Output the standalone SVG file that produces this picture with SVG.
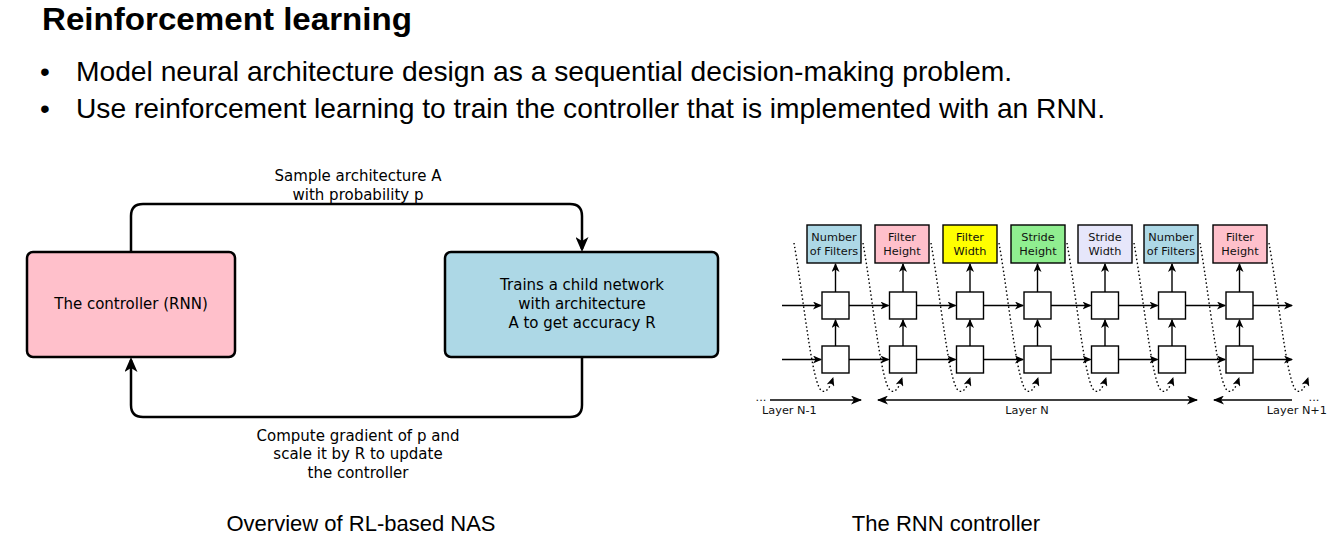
<svg xmlns="http://www.w3.org/2000/svg" width="1333" height="542" viewBox="0 0 1333 542">
<style>
.title{font-family:"Liberation Sans",Arial,sans-serif;font-weight:bold;font-size:32px;fill:#000}
.bul{font-family:"Liberation Sans",Arial,sans-serif;font-size:28px;fill:#000}
.cap{font-family:"Liberation Sans",Arial,sans-serif;font-size:22px;fill:#000;text-anchor:middle}
.lt{font-family:"DejaVu Sans",sans-serif;font-size:15px;fill:#000;text-anchor:middle}
.st{font-family:"DejaVu Sans",sans-serif;font-size:11.3px;fill:#111;text-anchor:middle}
.big{fill:none;stroke:#000;stroke-width:2.5}
.bigbox{stroke:#000;stroke-width:2.5}
.ln{fill:none;stroke:#000;stroke-width:1.4}
.dot{fill:none;stroke:#000;stroke-width:1.4;stroke-dasharray:1.5 2.5}
.sq{fill:#fff;stroke:#000;stroke-width:1.4}
.bx{stroke:#000;stroke-width:1.4}
</style>
<defs>
<marker id="ah" viewBox="0 0 15 13" refX="12" refY="6.5" markerWidth="15" markerHeight="13" markerUnits="userSpaceOnUse" orient="auto">
<path d="M0,0 L15,6.5 L0,13 L4,6.5 z" fill="#000"/>
</marker>
<marker id="sa" viewBox="0 0 9 8" refX="8" refY="4" markerWidth="9" markerHeight="8" markerUnits="userSpaceOnUse" orient="auto-start-reverse">
<path d="M0,0 L9,4 L0,8 L2.5,4 z" fill="#000"/>
</marker>
<marker id="la" viewBox="0 0 11 9" refX="10" refY="4.5" markerWidth="11" markerHeight="9" markerUnits="userSpaceOnUse" orient="auto-start-reverse">
<path d="M0,0 L11,4.5 L0,9 L3,4.5 z" fill="#000"/>
</marker>
</defs>
<rect width="1333" height="542" fill="#fff"/>

<g id="header">
<text class="title" x="42" y="30" textLength="370" lengthAdjust="spacingAndGlyphs">Reinforcement learning</text>
<text class="bul" x="40" y="81">•</text>
<text class="bul" x="76" y="81" textLength="936" lengthAdjust="spacingAndGlyphs">Model neural architecture design as a sequential decision-making problem.</text>
<text class="bul" x="40" y="118">•</text>
<text class="bul" x="76" y="118" textLength="1029" lengthAdjust="spacingAndGlyphs">Use reinforcement learning to train the controller that is implemented with an RNN.</text>
</g>

<g id="controller">
<rect class="bigbox" x="27" y="252" width="208" height="105" rx="6" fill="#ffc0cb"/>
<text class="lt" x="131" y="309">The controller (RNN)</text>
</g>
<g id="child">
<rect class="bigbox" x="445" y="252" width="273" height="105" rx="6" fill="#add8e6"/>
<text class="lt" x="582" y="290">Trains a child network</text>
<text class="lt" x="582" y="309">with architecture</text>
<text class="lt" x="582" y="328">A to get accuracy R</text>
</g>
<g id="left-connectors">
<path class="big" d="M131,252 L131,216 Q131,204 143,204 L570,204 Q582,204 582,216 L582,249" marker-end="url(#ah)"/>
<path class="big" d="M582,357 L582,405 Q582,417 570,417 L143,417 Q131,417 131,405 L131,360" marker-end="url(#ah)"/>
<text class="lt" x="358" y="181">Sample architecture A</text>
<text class="lt" x="358" y="200">with probability p</text>
<text class="lt" x="358" y="441">Compute gradient of p and</text>
<text class="lt" x="358" y="459">scale it by R to update</text>
<text class="lt" x="358" y="478">the controller</text>
</g>
<text class="cap" x="361" y="531">Overview of RL-based NAS</text>

<g id="rnn-boxes">
<g id="b1"><rect class="bx" x="807" y="225" width="54" height="38" fill="#add8e6"/><text class="st" x="834" y="241">Number</text><text class="st" x="834" y="255">of Filters</text></g>
<g id="b2"><rect class="bx" x="875" y="225" width="54" height="38" fill="#ffc0cb"/><text class="st" x="902" y="241">Filter</text><text class="st" x="902" y="255">Height</text></g>
<g id="b3"><rect class="bx" x="943" y="225" width="54" height="38" fill="#ffff00"/><text class="st" x="970" y="241">Filter</text><text class="st" x="970" y="255">Width</text></g>
<g id="b4"><rect class="bx" x="1011" y="225" width="54" height="38" fill="#90ee90"/><text class="st" x="1038" y="241">Stride</text><text class="st" x="1038" y="255">Height</text></g>
<g id="b5"><rect class="bx" x="1078" y="225" width="54" height="38" fill="#e6e6fa"/><text class="st" x="1105" y="241">Stride</text><text class="st" x="1105" y="255">Width</text></g>
<g id="b6"><rect class="bx" x="1144" y="225" width="54" height="38" fill="#add8e6"/><text class="st" x="1171" y="241">Number</text><text class="st" x="1171" y="255">of Filters</text></g>
<g id="b7"><rect class="bx" x="1213" y="225" width="54" height="38" fill="#ffc0cb"/><text class="st" x="1240" y="241">Filter</text><text class="st" x="1240" y="255">Height</text></g>
</g>

<g id="rnn-cells">
<rect class="sq" x="822" y="292" width="27" height="27"/><rect class="sq" x="822" y="346" width="27" height="27"/>
<rect class="sq" x="889.5" y="292" width="27" height="27"/><rect class="sq" x="889.5" y="346" width="27" height="27"/>
<rect class="sq" x="956.5" y="292" width="27" height="27"/><rect class="sq" x="956.5" y="346" width="27" height="27"/>
<rect class="sq" x="1024" y="292" width="27" height="27"/><rect class="sq" x="1024" y="346" width="27" height="27"/>
<rect class="sq" x="1091.5" y="292" width="27" height="27"/><rect class="sq" x="1091.5" y="346" width="27" height="27"/>
<rect class="sq" x="1158.5" y="292" width="27" height="27"/><rect class="sq" x="1158.5" y="346" width="27" height="27"/>
<rect class="sq" x="1226" y="292" width="27" height="27"/><rect class="sq" x="1226" y="346" width="27" height="27"/>
</g>

<g id="rnn-connectors">
<g marker-end="url(#sa)">
<path class="ln" d="M782,305.5 H821"/><path class="ln" d="M849,305.5 H888.5"/><path class="ln" d="M916.5,305.5 H955.5"/><path class="ln" d="M983.5,305.5 H1023"/><path class="ln" d="M1051,305.5 H1090.5"/><path class="ln" d="M1118.5,305.5 H1157.5"/><path class="ln" d="M1185.5,305.5 H1225"/><path class="ln" d="M1253,305.5 H1292"/>
<path class="ln" d="M782,359.5 H821"/><path class="ln" d="M849,359.5 H888.5"/><path class="ln" d="M916.5,359.5 H955.5"/><path class="ln" d="M983.5,359.5 H1023"/><path class="ln" d="M1051,359.5 H1090.5"/><path class="ln" d="M1118.5,359.5 H1157.5"/><path class="ln" d="M1185.5,359.5 H1225"/><path class="ln" d="M1253,359.5 H1292"/>
<path class="ln" d="M835.5,346 V320"/><path class="ln" d="M903,346 V320"/><path class="ln" d="M970,346 V320"/><path class="ln" d="M1037.5,346 V320"/><path class="ln" d="M1105,346 V320"/><path class="ln" d="M1172,346 V320"/><path class="ln" d="M1239.5,346 V320"/>
<path class="ln" d="M835.5,292 V264"/><path class="ln" d="M903,292 V264"/><path class="ln" d="M970,292 V264"/><path class="ln" d="M1037.5,292 V264"/><path class="ln" d="M1105,292 V264"/><path class="ln" d="M1172,292 V264"/><path class="ln" d="M1239.5,292 V264"/>
<path class="dot" d="M794,243 C804,300 812,386 822,391 C827,393 830,387 833,378"/>
<path class="dot" d="M863,243 C873,300 881,386 891,391 C896,393 899,387 902,378"/>
<path class="dot" d="M931,243 C941,300 949,386 959,391 C964,393 967,387 970,378"/>
<path class="dot" d="M999,243 C1009,300 1017,386 1027,391 C1032,393 1035,387 1038,378"/>
<path class="dot" d="M1067,243 C1077,300 1085,386 1095,391 C1100,393 1103,387 1106,378"/>
<path class="dot" d="M1134,243 C1144,300 1152,386 1162,391 C1167,393 1170,387 1173,378"/>
<path class="dot" d="M1200,243 C1210,300 1218,386 1228,391 C1233,393 1236,387 1239,378"/>
<path class="dot" d="M1269,243 C1279,300 1287,386 1297,391 C1302,393 1305,387 1308,378"/>
</g>
<path class="ln" d="M770,400 H861" marker-end="url(#la)"/>
<path class="ln" d="M878,400 H1197" marker-start="url(#la)" marker-end="url(#la)"/>
<path class="ln" d="M1292,400 H1214" marker-end="url(#la)"/>
<text class="st" x="761" y="401">...</text>
<text class="st" x="1314" y="401">...</text>
<text class="st" x="762" y="414" style="text-anchor:start">Layer N-1</text>
<text class="st" x="1027" y="414">Layer N</text>
<text class="st" x="1327" y="414" style="text-anchor:end">Layer N+1</text>
</g>
<text class="cap" x="946" y="531">The RNN controller</text>
</svg>
